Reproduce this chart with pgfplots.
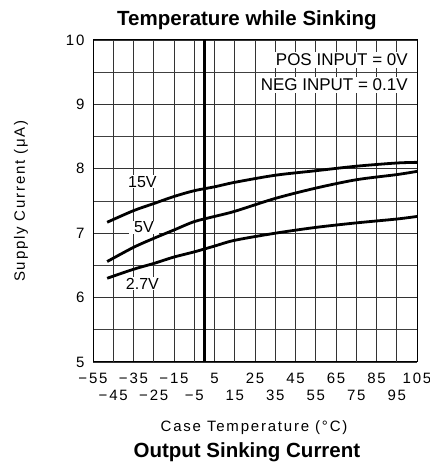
\documentclass[border=0pt]{standalone}
\usepackage{fontspec}
\setmainfont{Liberation Sans}
\newfontfamily\lbl[LetterSpace=12]{Liberation Sans}
\usepackage{pgfplots}
\pgfplotsset{compat=1.18}
\begin{document}
\begin{tikzpicture}
\path[use as bounding box] (0,0) rectangle (430bp,466bp);
\begin{axis}[
  at={(93bp,104bp)}, anchor=south west,
  scale only axis, width=324bp, height=322bp,
  xmin=-55, xmax=105, ymin=5, ymax=10,
  clip=false,
  axis line style={black, line width=1bp},
  xtick={-55,-35,-15,5,25,45,65,85,105},
  xticklabels={−55,−35,−15,5,25,45,65,85,105},
  extra x ticks={-45,-25,-5,15,35,55,75,95},
  extra x tick labels={−45,−25,−5,15,35,55,75,95},
  extra x tick style={grid=major, xticklabel style={yshift=-17bp}},
  ytick={5,6,7,8,9,10},
  yticklabels={5,6,7,8,9,10},
  minor ytick={5.5,6.5,7.5,8.5,9.5},
  grid=both,
  major grid style={black!80, line width=0.9bp},
  minor grid style={black!75, line width=0.9bp},
  major tick length=0pt, minor tick length=0pt,
  tick label style={font=\lbl\fontsize{15bp}{18bp}\selectfont},
  xticklabel style={yshift=-8bp},
  yticklabel style={xshift=-5bp},
  label style={font=\lbl\fontsize{15bp}{18bp}\selectfont},
  xlabel={Case Temperature (°C)},
  xlabel style={at={(axis description cs:0.497,-0.205)}, anchor=center},
  ylabel={Supply Current (μA)},
  ylabel style={at={(axis description cs:-0.222,0.5)}, anchor=center},
]
\addplot[black, line width=3bp] coordinates {(0,5) (0,10)};
\addplot[black, line width=2.8bp, smooth] coordinates {
(-48,7.17) (-35,7.35) (-25,7.46) (-15,7.57) (-5,7.66) (5,7.72) (15,7.79) (35,7.90) (55,7.97) (75,8.04) (95,8.09) (105,8.10)};
\addplot[black, line width=2.8bp, smooth] coordinates {
(-48,6.56) (-35,6.78) (-25,6.92) (-15,7.05) (-5,7.18) (5,7.26) (15,7.34) (35,7.54) (55,7.70) (75,7.83) (95,7.91) (105,7.96)};
\addplot[black, line width=2.8bp, smooth] coordinates {
(-48,6.30) (-35,6.44) (-25,6.53) (-15,6.63) (-5,6.71) (5,6.80) (15,6.89) (35,7.00) (55,7.09) (75,7.16) (95,7.22) (105,7.26)};
\node[fill=white, inner xsep=2bp, inner ysep=1bp, font=\fontsize{16bp}{18bp}\selectfont] at (axis cs:-30.6,7.80) {15V};
\node[fill=white, inner xsep=5bp, inner ysep=1bp, font=\fontsize{16bp}{18bp}\selectfont] at (axis cs:-29.8,7.09) {5V};
\node[fill=white, inner xsep=2bp, inner ysep=1bp, font=\fontsize{16bp}{18bp}\selectfont] at (axis cs:-30.6,6.22) {2.7V};
\node[fill=white, anchor=east, inner xsep=2bp, inner ysep=2bp, font=\fontsize{17bp}{19bp}\selectfont] at (axis cs:101.5,9.69) {POS INPUT = 0V};
\node[fill=white, anchor=east, inner xsep=2bp, inner ysep=2bp, font=\fontsize{17bp}{19bp}\selectfont] at (axis cs:101.5,9.30) {NEG INPUT = 0.1V};
\node[anchor=center, font=\bfseries\fontsize{20.5bp}{24bp}\selectfont] at (axis description cs:0.475,1.060) {Temperature while Sinking};
\node[anchor=center, font=\bfseries\fontsize{20.5bp}{24bp}\selectfont] at (axis description cs:0.475,-0.280) {Output Sinking Current};
\end{axis}
\end{tikzpicture}
\end{document}
